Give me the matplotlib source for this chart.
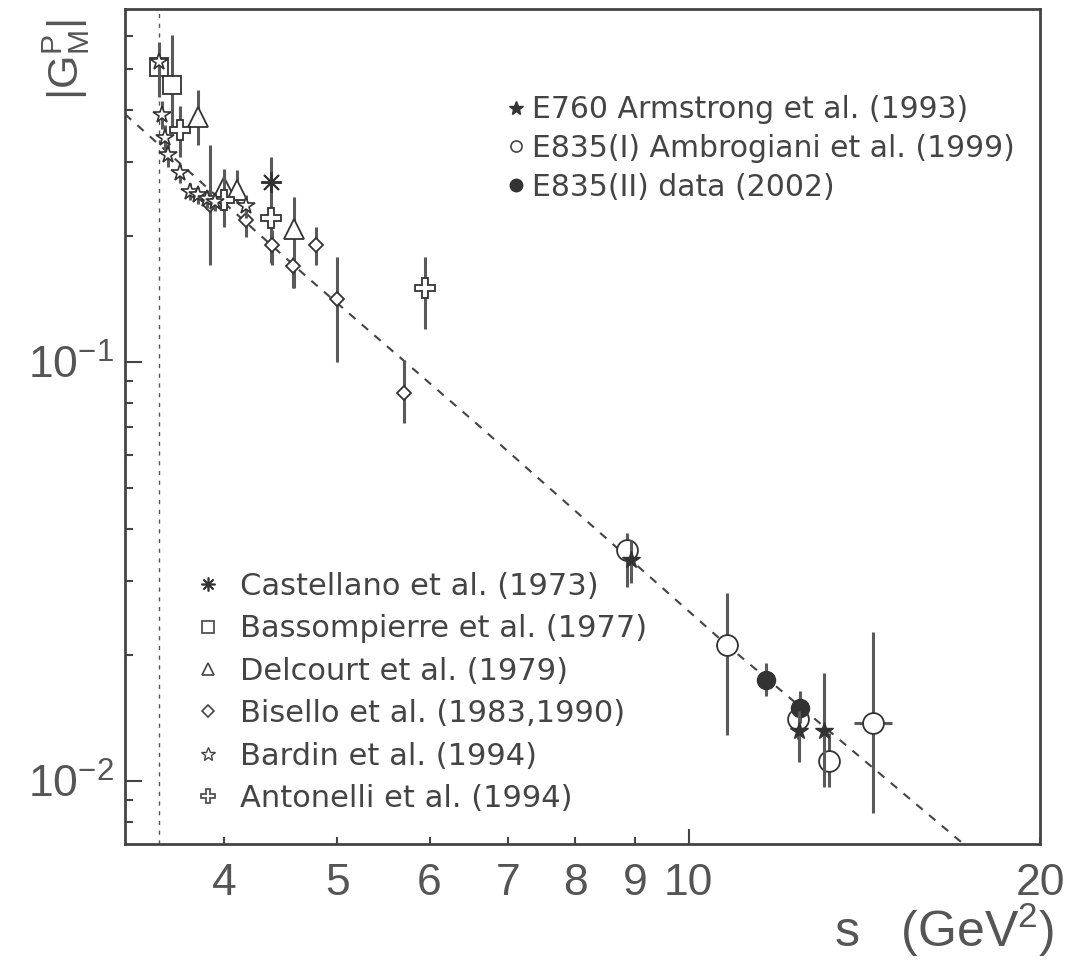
import matplotlib
matplotlib.use('Agg')
import matplotlib.pyplot as plt
from matplotlib.lines import Line2D
from matplotlib.ticker import FixedLocator, FixedFormatter, NullFormatter, LogLocator

plt.rcParams['font.family'] = ['Liberation Sans', 'DejaVu Sans']
plt.rcParams['mathtext.fontset'] = 'custom'
plt.rcParams['mathtext.rm'] = 'Liberation Sans'

# ---------------- data ----------------
threshold_s = 3.52   # 4 m_p^2

fit_s = [3.29, 4.71, 6.63, 10.79, 17.2]
fit_G = [0.390, 0.1595, 0.0700, 0.0211, 0.00708]

castellano_s = [4.39]
castellano_G = [0.269]
castellano_lo = [0.034]
castellano_hi = [0.040]

bassompierre_s = [3.52, 3.61]
bassompierre_G = [0.506, 0.458]
bassompierre_lo = [0.078, 0.094]
bassompierre_hi = [0.075, 0.145]

delcourt_s = [3.80, 4.00, 4.10, 4.59]
delcourt_G = [0.384, 0.262, 0.257, 0.208]
delcourt_lo = [0.055, 0.025, 0.018, 0.058]
delcourt_hi = [0.062, 0.027, 0.030, 0.040]

bisello_s = [3.89, 4.18, 4.40, 4.58, 4.80, 5.00, 5.70]
bisello_G = [0.237, 0.218, 0.190, 0.169, 0.190, 0.141, 0.0842]
bisello_lo = [0.067, 0.019, 0.020, 0.019, 0.020, 0.041, 0.0127]
bisello_hi = [0.092, 0.017, 0.016, 0.009, 0.020, 0.037, 0.0168]

bardin_s = [3.52, 3.537, 3.558, 3.581, 3.67, 3.737, 3.80, 3.87, 3.93, 4.18]
bardin_G = [0.52, 0.389, 0.342, 0.311, 0.282, 0.255, 0.250, 0.245, 0.241, 0.235]
bardin_lo = [0.08, 0.03, 0.025, 0.02, 0.015, 0.012, 0.012, 0.012, 0.012, 0.015]
bardin_hi = [0.05, 0.03, 0.025, 0.02, 0.015, 0.012, 0.012, 0.012, 0.012, 0.015]

antonelli_s = [3.67, 4.00, 4.39, 5.95]
antonelli_G = [0.358, 0.243, 0.220, 0.150]
antonelli_lo = [0.049, 0.033, 0.048, 0.030]
antonelli_hi = [0.049, 0.044, 0.020, 0.028]

e760_s = [8.92, 12.43, 13.05]
e760_G = [0.0337, 0.0132, 0.0132]
e760_lo = [0.004, 0.0021, 0.0035]
e760_hi = [0.004, 0.0015, 0.0049]

e835a_s = [8.86, 10.79, 12.40, 13.20, 14.40]
e835a_G = [0.0356, 0.0211, 0.0141, 0.0112, 0.0138]
e835a_lo = [0.0065, 0.0082, 0.0015, 0.0015, 0.0054]
e835a_hi = [0.0035, 0.0070, 0.0015, 0.0018, 0.0089]
e835a_xerr = [0.0, 0.23, 0.0, 0.0, 0.54]

e835b_s = [11.64, 12.46]
e835b_G = [0.01742, 0.01494]
e835b_lo = [0.0015, 0.0012]
e835b_hi = [0.0017, 0.0015]

x_tick_vals = [4, 5, 6, 7, 8, 9, 20]
x_tick_labels = ['4', '5', '6', '7', '8', '9', '20']
x_major_vals = [10]
x_major_labels = ['10']
y_major_vals = [0.01, 0.1]
y_major_labels = [r'$\mathregular{10^{-2}}$', r'$\mathregular{10^{-1}}$']

top_labels = ['E760 Armstrong et al. (1993)',
              'E835(I) Ambrogiani et al. (1999)',
              'E835(II) data (2002)']
bottom_labels = ['Castellano et al. (1973)',
                 'Bassompierre et al. (1977)',
                 'Delcourt et al. (1979)',
                 'Bisello et al. (1983,1990)',
                 'Bardin et al. (1994)',
                 'Antonelli et al. (1994)']

# ---------------- figure ----------------
W, H = 1073, 965
fig = plt.figure(figsize=(W / 100, H / 100), dpi=100)
ax = fig.add_axes([125 / W, 1 - 844 / H, 915 / W, 835 / H])
ax.set_xscale('log')
ax.set_yscale('log')
ax.set_xlim(3.29, 20)
ax.set_ylim(0.00708, 0.695)

DARK = '#333333'
ECOL = '#5a5a5a'

ax.axvline(threshold_s, color='#555555', lw=1.0, ls=(0, (3, 4)), zorder=1)
ax.plot(fit_s, fit_G, color='#444444', lw=1.5, ls=(0, (4, 4)), zorder=2)

def eb(s, g, lo, hi, xerr=None, **kw):
    ax.errorbar(s, g, yerr=[lo, hi], xerr=xerr, ls='none', ecolor=ECOL,
                elinewidth=2.2, capsize=0, **kw)

eb(bassompierre_s, bassompierre_G, bassompierre_lo, bassompierre_hi,
   marker='s', ms=13, mfc='white', mec=DARK, mew=1.3, zorder=3)
eb(delcourt_s, delcourt_G, delcourt_lo, delcourt_hi,
   marker='^', ms=15, mfc='white', mec=DARK, mew=1.3, zorder=4)
eb(bisello_s, bisello_G, bisello_lo, bisello_hi,
   marker='D', ms=7, mfc='white', mec=DARK, mew=1.3, zorder=5)
eb(antonelli_s, antonelli_G, antonelli_lo, antonelli_hi,
   marker='P', ms=15, mfc='white', mec=DARK, mew=1.3, zorder=5)
eb(castellano_s, castellano_G, castellano_lo, castellano_hi,
   marker=(8, 2, 0), ms=15, mfc=DARK, mec=DARK, mew=1.4, zorder=6)
eb(bardin_s, bardin_G, bardin_lo, bardin_hi,
   marker='*', ms=13, mfc='white', mec=DARK, mew=1.2, zorder=7)
eb(e835a_s, e835a_G, e835a_lo, e835a_hi, xerr=e835a_xerr,
   marker='o', ms=15, mfc='white', mec=DARK, mew=1.3, zorder=6)
eb(e835b_s, e835b_G, e835b_lo, e835b_hi,
   marker='o', ms=13, mfc='#333333', mec=DARK, mew=1.0, zorder=7)
eb(e760_s, e760_G, e760_lo, e760_hi,
   marker='*', ms=13, mfc=DARK, mec=DARK, mew=1.0, zorder=8)

# ---------------- axes styling ----------------
for sp in ax.spines.values():
    sp.set_linewidth(2.0)
    sp.set_color('#444444')

ax.xaxis.set_major_locator(FixedLocator(x_major_vals))
ax.xaxis.set_major_formatter(FixedFormatter(x_major_labels))
ax.xaxis.set_minor_locator(FixedLocator(x_tick_vals))
ax.xaxis.set_minor_formatter(FixedFormatter(x_tick_labels))
ax.yaxis.set_major_locator(FixedLocator(y_major_vals))
ax.yaxis.set_major_formatter(FixedFormatter(y_major_labels))
ax.yaxis.set_minor_locator(LogLocator(base=10, subs=range(2, 10)))
ax.yaxis.set_minor_formatter(NullFormatter())

ax.tick_params(axis='both', which='both', direction='in', top=False, right=False,
               color='#444444', labelcolor='#555555', width=1.5, labelsize=32)
ax.tick_params(axis='x', which='major', length=11, pad=14)
ax.tick_params(axis='x', which='minor', length=5, pad=14)
ax.tick_params(axis='y', which='major', length=12, pad=8)
ax.tick_params(axis='y', which='minor', length=6)

fig.text(66 / W, 1 - 60 / H, r'$\mathregular{|G^{P}_{M}|}$', rotation=90,
         fontsize=31, color='#555555', ha='center', va='center')
fig.text(1054 / W, 1 - 930 / H, r's   (GeV$\mathregular{^{2}}$)',
         fontsize=36, color='#555555', ha='right', va='center')

# ---------------- legends ----------------
top_handles = [
    Line2D([], [], ls='none', marker='*', ms=10, mfc=DARK, mec=DARK),
    Line2D([], [], ls='none', marker='o', ms=8, mfc='white', mec='#444444', mew=1.2),
    Line2D([], [], ls='none', marker='o', ms=9, mfc=DARK, mec=DARK),
]
leg1 = ax.legend(top_handles, top_labels, loc='upper left',
                 bbox_to_anchor=(0.414, 0.897), frameon=False,
                 prop={'family': 'DejaVu Sans', 'size': 21.5},
                 handlelength=0.8, handletextpad=0.15, labelspacing=0.33,
                 borderpad=0, borderaxespad=0, labelcolor='#444444')
ax.add_artist(leg1)

bottom_handles = [
    Line2D([], [], ls='none', marker=(8, 2, 0), ms=10, mfc=DARK, mec=DARK, mew=1.2),
    Line2D([], [], ls='none', marker='s', ms=9, mfc='white', mec='#444444', mew=1.2),
    Line2D([], [], ls='none', marker='^', ms=9, mfc='white', mec='#444444', mew=1.2),
    Line2D([], [], ls='none', marker='D', ms=6, mfc='white', mec='#444444', mew=1.2),
    Line2D([], [], ls='none', marker='*', ms=10, mfc='white', mec='#444444', mew=1.0),
    Line2D([], [], ls='none', marker='P', ms=10, mfc='white', mec='#444444', mew=1.2),
]
leg2 = ax.legend(bottom_handles, bottom_labels, loc='upper left',
                 bbox_to_anchor=(0.0743, 0.326), frameon=False,
                 prop={'family': 'DejaVu Sans', 'size': 22},
                 handlelength=1.0, handletextpad=0.54, labelspacing=0.44,
                 borderpad=0, borderaxespad=0, labelcolor='#444444')

fig.savefig('out.png', dpi=100)
